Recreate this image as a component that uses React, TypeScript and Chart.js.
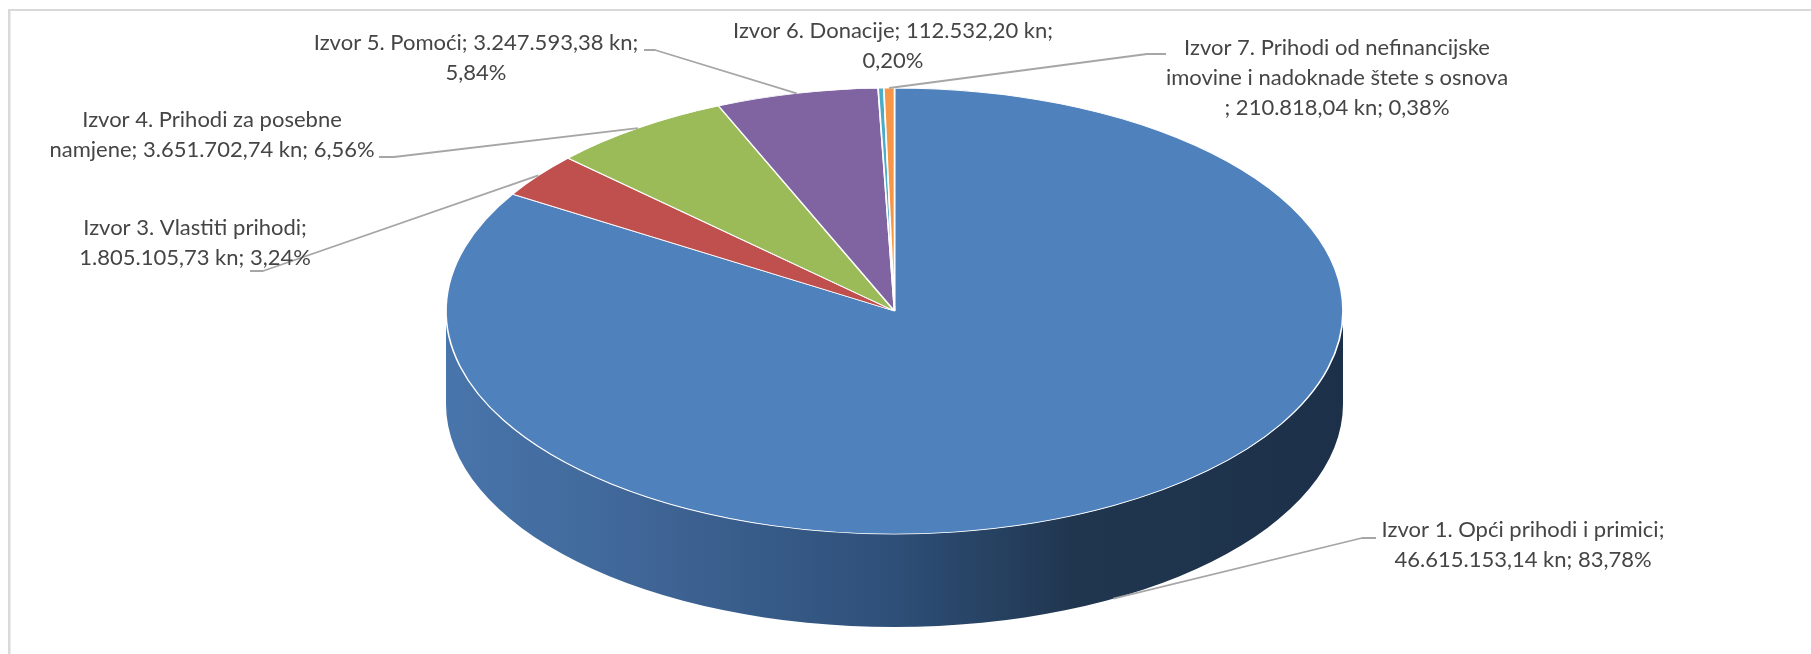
import React, { useEffect, useRef } from "react";
import { Chart, registerables } from "chart.js";

Chart.register(...registerables);

const categories = [
  "Izvor 1. Opći prihodi i primici",
  "Izvor 3. Vlastiti prihodi",
  "Izvor 4. Prihodi za posebne namjene",
  "Izvor 5. Pomoći",
  "Izvor 6. Donacije",
  "Izvor 7. Prihodi od nefinancijske imovine i nadoknade štete s osnova",
];
const amounts = [46615153.14, 1805105.73, 3651702.74, 3247593.38, 112532.2, 210818.04];
const labelLines = [
  ["Izvor 1. Opći prihodi i primici;", "46.615.153,14 kn; 83,78%"],
  ["Izvor 3. Vlastiti prihodi;", "1.805.105,73 kn; 3,24%"],
  ["Izvor 4. Prihodi za posebne", "namjene; 3.651.702,74 kn; 6,56%"],
  ["Izvor 5. Pomoći; 3.247.593,38 kn;", "5,84%"],
  ["Izvor 6. Donacije; 112.532,20 kn;", "0,20%"],
  ["Izvor 7. Prihodi od nefinancijske", "imovine i nadoknade štete s osnova", "; 210.818,04 kn; 0,38%"],
];
const sliceColors = ["#4f81bd", "#c0504d", "#9bbb59", "#8064a2", "#4bacc6", "#f79646"];

// Layout of the tilted pie on the page
const WIDTH = 1811;
const HEIGHT = 654;
const CX = 894.5;
const CY = 311;
const RX = 448.5;
const RY = 223;
const DEPTH = 93;
const FONT = '22px Lato, sans-serif';
const LINE_H = 30;
// label centre x, first line centre y, leader elbow points (label side first)
const labelLayout = [
  { x: 1523, y: 530, leader: [[1376, 538], [1362, 538]] },
  { x: 195, y: 228, leader: [[250, 271], [263, 271]] },
  { x: 212, y: 120, leader: [[379, 157], [394, 157]] },
  { x: 476, y: 43, leader: [[644, 50], [655, 50]] },
  { x: 893, y: 31, leader: [] as number[][] },
  { x: 1337, y: 48, leader: [[1166, 54], [1147, 54]] },
];
const TEXT_COLOR = "#454545";
const LEADER_COLOR = "#a6a6a6";
const FRAME_COLOR = "#d9d9d9";
const wallStops: [number, string][] = [
  [0, "#4875ab"],
  [0.23, "#3f6596"],
  [0.5, "#2e4f78"],
  [0.7, "#20364f"],
  [1, "#1d3049"],
];

function norm(a: number) {
  const t = 2 * Math.PI;
  return ((a % t) + t) % t;
}

const piePlugin = {
  id: "tiltedPie",
  beforeDraw(chart: any) {
    const { ctx } = chart;
    ctx.save();
    ctx.fillStyle = "#ffffff";
    ctx.fillRect(0, 0, WIDTH, HEIGHT);
    ctx.fillStyle = FRAME_COLOR;
    ctx.fillRect(8, 9, WIDTH - 8, 2);
    ctx.fillRect(8, 9, 2.5, HEIGHT - 9);
    ctx.restore();
  },
  beforeDatasetsDraw(chart: any) {
    const { ctx } = chart;
    const arcs = chart.getDatasetMeta(0).data;
    const first = arcs[0];
    // side wall: the part of each slice that faces the viewer
    ctx.save();
    const grad = ctx.createLinearGradient(CX - RX, 0, CX + RX, 0);
    wallStops.forEach(([o, c]) => grad.addColorStop(o, c));
    arcs.forEach((a: any) => {
      const sweep = a.endAngle - a.startAngle;
      const start = norm(a.startAngle);
      const candidates: [number, number][] = [
        [start, start + sweep],
        [start - 2 * Math.PI, start - 2 * Math.PI + sweep],
      ];
      candidates.forEach(([s0, e0]) => {
        const s = Math.max(s0, 0);
        const e = Math.min(e0, Math.PI);
        if (e <= s) return;
        ctx.beginPath();
        ctx.ellipse(CX, CY, RX, RY, 0, s, e);
        ctx.ellipse(CX, CY + DEPTH, RX, RY, 0, e, s, true);
        ctx.closePath();
        ctx.fillStyle = grad;
        ctx.fill();
      });
    });
    ctx.restore();
    // top surface: squash the library's circular pie to an ellipse
    ctx.save();
    ctx.translate(CX, CY);
    ctx.scale(RX / first.outerRadius, RY / first.outerRadius);
    ctx.translate(-first.x, -first.y);
  },
  afterDatasetsDraw(chart: any) {
    const { ctx } = chart;
    ctx.restore();
    const arcs = chart.getDatasetMeta(0).data;
    ctx.save();
    // leaders
    ctx.strokeStyle = LEADER_COLOR;
    ctx.lineWidth = 1.8;
    ctx.lineJoin = "round";
    arcs.forEach((a: any, i: number) => {
      const pts = labelLayout[i].leader;
      if (!pts.length) return;
      const mid = (a.startAngle + a.endAngle) / 2;
      const ax = CX + RX * Math.cos(mid);
      let ay = CY + RY * Math.sin(mid);
      if (Math.sin(mid) > 0) ay += DEPTH;
      ctx.beginPath();
      pts.forEach(([x, y], k) => (k ? ctx.lineTo(x, y) : ctx.moveTo(x, y)));
      ctx.lineTo(ax, ay);
      ctx.stroke();
    });
    // labels
    ctx.fillStyle = TEXT_COLOR;
    ctx.font = FONT;
    ctx.textAlign = "center";
    ctx.textBaseline = "middle";
    labelLines.forEach((lines, i) => {
      lines.forEach((t, k) => ctx.fillText(t, labelLayout[i].x, labelLayout[i].y + k * LINE_H));
    });
    ctx.restore();
  },
};

export default function App() {
  const ref = useRef<HTMLCanvasElement>(null);
  useEffect(() => {
    document.body.style.margin = "0";
    document.body.style.background = "#ffffff";
    const chart = new Chart(ref.current!, {
      type: "pie",
      data: {
        labels: categories,
        datasets: [
          {
            data: amounts,
            backgroundColor: sliceColors,
            borderColor: "#ffffff",
            borderWidth: 1.2,
            clip: false,
          } as any,
        ],
      },
      options: {
        responsive: false,
        animation: false,
        devicePixelRatio: 1,
        plugins: { legend: { display: false }, tooltip: { enabled: false }, title: { display: false } },
      },
      plugins: [piePlugin],
    });
    return () => chart.destroy();
  }, []);
  return <canvas ref={ref} width={WIDTH} height={HEIGHT} style={{ display: "block" }} />;
}
